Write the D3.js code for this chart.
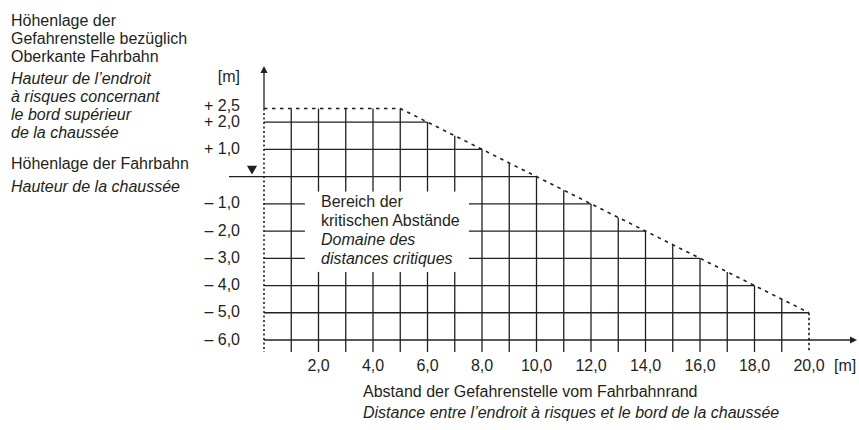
<!DOCTYPE html>
<html lang="de">
<head>
<meta charset="utf-8">
<title>Bereich der kritischen Abstände</title>
<script src="https://cdnjs.cloudflare.com/ajax/libs/d3/7.8.5/d3.min.js"></script>
<style>
  body { margin: 0; background: #fff; }
  svg text { font-family: "Liberation Sans", Arial, sans-serif; fill: #231f20; }
  .it { font-style: italic; }
</style>
</head>
<body>
<script>
// chart values
var xTicks = [2, 4, 6, 8, 10, 12, 14, 16, 18, 20];
var xTickLabels = ["2,0", "4,0", "6,0", "8,0", "10,0", "12,0", "14,0", "16,0", "18,0", "20,0"];
var yTicks = [2.5, 2, 1, -1, -2, -3, -4, -5, -6];
var yTickLabels = ["+ 2,5", "+ 2,0", "+ 1,0", "– 1,0", "– 2,0", "– 3,0", "– 4,0", "– 5,0", "– 6,0"];
var gridX = [1, 2, 3, 4, 5, 6, 7, 8, 9, 10, 11, 12, 13, 14, 15, 16, 17, 18, 19];
var gridY = [2, 1, 0, -1, -2, -3, -4, -5];
// limit of the critical zone (x in m, height in m)
var boundary = [[0, 2.5], [5, 2.5], [20, -5]];

var leftTextDe1 = ["Höhenlage der", "Gefahrenstelle bezüglich", "Oberkante Fahrbahn"];
var leftTextFr1 = ["Hauteur de l’endroit", "à risques concernant", "le bord supérieur", "de la chaussée"];
var leftTextDe2 = ["Höhenlage der Fahrbahn"];
var leftTextFr2 = ["Hauteur de la chaussée"];
var boxTextDe = ["Bereich der", "kritischen Abstände"];
var boxTextFr = ["Domaine des", "distances critiques"];
var xTitleDe = "Abstand der Gefahrenstelle vom Fahrbahnrand";
var xTitleFr = "Distance entre l’endroit à risques et le bord de la chaussée";

var w = 859, h = 430;
var ink = "#231f20";
var fs = "16px";

var svg = d3.select("body").append("svg")
  .attr("width", w).attr("height", h);

var x = d3.scaleLinear().domain([0, 20]).range([264, 809]);
var y = d3.scaleLinear().domain([-6, 2.5]).range([340, 108.5]);

// height of the boundary at a given distance
function boundaryY(v) {
  for (var i = 0; i < boundary.length - 1; i++) {
    var a = boundary[i], b = boundary[i + 1];
    if (v >= a[0] && v <= b[0]) {
      return a[1] + (b[1] - a[1]) * (v - a[0]) / (b[0] - a[0]);
    }
  }
  return boundary[boundary.length - 1][1];
}
// distance where the boundary reaches a given height
function boundaryX(v) {
  for (var i = 0; i < boundary.length - 1; i++) {
    var a = boundary[i], b = boundary[i + 1];
    if (a[1] !== b[1] && v <= a[1] && v >= b[1]) {
      return a[0] + (b[0] - a[0]) * (v - a[1]) / (b[1] - a[1]);
    }
  }
  return boundary[1][0];
}

var g = svg.append("g");

// vertical grid lines
g.selectAll(".vgrid").data(gridX).enter().append("line")
  .attr("class", "vgrid")
  .attr("x1", function(d) { return x(d); })
  .attr("x2", function(d) { return x(d); })
  .attr("y1", function(d) { return y(boundaryY(d)); })
  .attr("y2", y(-6) + 12)
  .attr("stroke", ink).attr("stroke-width", 1.3);

// horizontal grid lines
g.selectAll(".hgrid").data(gridY).enter().append("line")
  .attr("class", "hgrid")
  .attr("x1", function(d) { return d === 0 ? x(0) - 35 : x(0); })
  .attr("x2", function(d) { return x(boundaryX(d)); })
  .attr("y1", function(d) { return y(d); })
  .attr("y2", function(d) { return y(d); })
  .attr("stroke", ink).attr("stroke-width", 1.3);

// x axis with arrow
g.append("line")
  .attr("x1", x(0)).attr("x2", w - 6)
  .attr("y1", y(-6)).attr("y2", y(-6))
  .attr("stroke", ink).attr("stroke-width", 1.3);
g.append("path")
  .attr("d", "M" + (w - 2) + "," + y(-6) + "l-7,-3.5v7z")
  .attr("fill", ink);

// y axis: solid part above the boundary, dotted below
g.append("line")
  .attr("x1", x(0)).attr("x2", x(0))
  .attr("y1", 72).attr("y2", y(2.5))
  .attr("stroke", ink).attr("stroke-width", 1.3);
g.append("path")
  .attr("d", "M" + x(0) + ",66l-3.5,7h7z")
  .attr("fill", ink);
g.append("line")
  .attr("x1", x(0)).attr("x2", x(0))
  .attr("y1", y(2.5)).attr("y2", y(-6) + 12)
  .attr("stroke", ink).attr("stroke-width", 1.6)
  .attr("stroke-dasharray", "2,2.5");

// boundary (dashed)
var line = d3.line().x(function(d) { return x(d[0]); }).y(function(d) { return y(d[1]); });
g.append("path")
  .attr("d", line(boundary))
  .attr("fill", "none")
  .attr("stroke", ink).attr("stroke-width", 1.6)
  .attr("stroke-dasharray", "3.5,4.5");

// dotted vertical at the end of the boundary
var last = boundary[boundary.length - 1];
g.append("line")
  .attr("x1", x(last[0])).attr("x2", x(last[0]))
  .attr("y1", y(last[1])).attr("y2", y(-6) + 12)
  .attr("stroke", ink).attr("stroke-width", 1.6)
  .attr("stroke-dasharray", "2.5,2.5");

// road level marker
g.append("path")
  .attr("d", d3.symbol().type(d3.symbolTriangle).size(45))
  .attr("transform", "translate(" + (x(0) - 12) + "," + (y(0) - 8) + ") rotate(180)")
  .attr("fill", ink);

// y tick labels (the top one is nudged up, it sits close to + 2,0)
g.selectAll(".ylab").data(yTicks).enter().append("text")
  .attr("class", "ylab")
  .attr("x", 240)
  .attr("y", function(d, i) { return y(d) + (i === 0 ? 2.5 : 4.5); })
  .attr("text-anchor", "end")
  .style("font-size", fs)
  .text(function(d, i) { return yTickLabels[i]; });

g.append("text").attr("x", 240).attr("y", 82)
  .attr("text-anchor", "end").style("font-size", fs).text("[m]");

// x tick labels
g.selectAll(".xlab").data(xTicks).enter().append("text")
  .attr("class", "xlab")
  .attr("x", function(d) { return x(d); })
  .attr("y", 371)
  .attr("text-anchor", "middle")
  .style("font-size", fs)
  .text(function(d, i) { return xTickLabels[i]; });

g.append("text").attr("x", 834).attr("y", 371)
  .style("font-size", fs).text("[m]");

// label box in the grid
g.append("rect")
  .attr("x", x(1.5)).attr("y", y(-0.55))
  .attr("width", x(7.52) - x(1.5))
  .attr("height", y(-3.5) - y(-0.55))
  .attr("fill", "#fff");

var boxLines = boxTextDe.map(function(t) { return { t: t, it: false }; })
  .concat(boxTextFr.map(function(t) { return { t: t, it: true }; }));
g.selectAll(".box").data(boxLines).enter().append("text")
  .attr("class", function(d) { return d.it ? "box it" : "box"; })
  .attr("x", 321)
  .attr("y", function(d, i) { return 207 + i * 19; })
  .style("font-size", fs)
  .text(function(d) { return d.t; });

// left-hand descriptions
function block(lines, italic, x0, y0, step) {
  g.selectAll(null).data(lines).enter().append("text")
    .attr("class", italic ? "it" : null)
    .attr("x", x0)
    .attr("y", function(d, i) { return y0 + i * step; })
    .style("font-size", fs)
    .text(function(d) { return d; });
}
block(leftTextDe1, false, 11, 26, 18);
block(leftTextFr1, true, 11, 84, 18);
block(leftTextDe2, false, 11, 169, 18);
block(leftTextFr2, true, 11, 192, 18);

// x axis titles
block([xTitleDe], false, 363, 397, 20);
block([xTitleFr], true, 363, 418, 20);
</script>
</body>
</html>
